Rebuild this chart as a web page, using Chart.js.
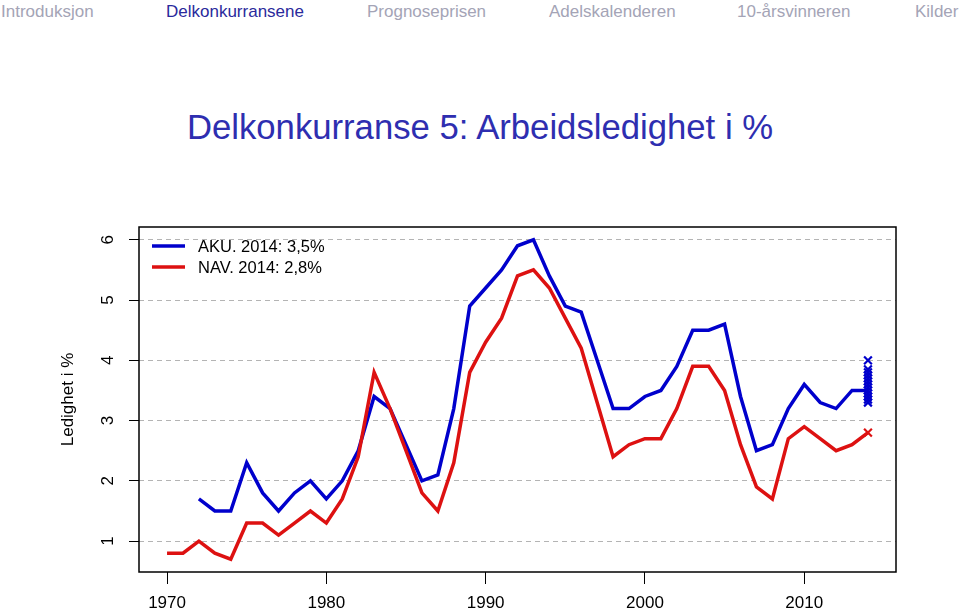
<!DOCTYPE html>
<html>
<head>
<meta charset="utf-8">
<script src="https://cdn.jsdelivr.net/npm/chart.js@4"></script>
<style>
  html, body { margin: 0; padding: 0; background: #fff; }
  #wrap { position: relative; width: 960px; height: 610px; overflow: hidden; }
  #nav div { position: absolute; top: 3px; font: 17px "Liberation Sans", Arial, sans-serif; line-height: 17px; color: #a4a4b6; white-space: nowrap; }
  #nav div.active { color: #2a2a9c; }
  #title { position: absolute; left: 0; width: 960px; top: 110px; text-align: center;
    font: 34.7px "Liberation Sans", Arial, sans-serif; line-height: 34.7px; color: #2e2eb0; }
  canvas { position: absolute; left: 0; top: 0; }
</style>
</head>
<body>
<div id="wrap">
  <div id="nav">
    <div style="left:1px">Introduksjon</div>
    <div class="active" style="left:166px">Delkonkurransene</div>
    <div style="left:367px">Prognoseprisen</div>
    <div style="left:549px">Adelskalenderen</div>
    <div style="left:737px">10-årsvinneren</div>
    <div style="left:915px">Kilder</div>
  </div>
  <div id="title">Delkonkurranse 5: Arbeidsledighet i %</div>
  <canvas id="ledighetChart" width="960" height="610"></canvas>
</div>
<script>
// Arbeidsledighet, AKU og NAV, 1970-2014
const years = [1970, 1971, 1972, 1973, 1974, 1975, 1976, 1977, 1978, 1979,
	1980, 1981, 1982, 1983, 1984, 1985, 1986, 1987, 1988, 1989,
	1990, 1991, 1992, 1993, 1994, 1995, 1996, 1997, 1998, 1999,
	2000, 2001, 2002, 2003, 2004, 2005, 2006, 2007, 2008, 2009,
	2010, 2011, 2012, 2013, 2014];
const aku = [null, null, 1.7, 1.5, 1.5, 2.3, 1.8, 1.5, 1.8, 2.0,
	1.7, 2.0, 2.5, 3.4, 3.2, 2.6, 2.0, 2.1, 3.2, 4.9,
	5.2, 5.5, 5.9, 6.0, 5.4, 4.9, 4.8, 4.0, 3.2, 3.2,
	3.4, 3.5, 3.9, 4.5, 4.5, 4.6, 3.4, 2.5, 2.6, 3.2,
	3.6, 3.3, 3.2, 3.5, 3.5];
const nav = [0.8, 0.8, 1.0, 0.8, 0.7, 1.3, 1.3, 1.1, 1.3, 1.5,
	1.3, 1.7, 2.4, 3.8, 3.2, 2.5, 1.8, 1.5, 2.3, 3.8,
	4.3, 4.7, 5.4, 5.5, 5.2, 4.7, 4.2, 3.3, 2.4, 2.6,
	2.7, 2.7, 3.2, 3.9, 3.9, 3.5, 2.6, 1.9, 1.7, 2.7,
	2.9, 2.7, 2.5, 2.6, 2.8];
// tips for 2014 (crosses)
const tipYear = 2014;
const akuTips = [4.0, 3.85, 3.8, 3.75, 3.7, 3.65, 3.6, 3.55, 3.5, 3.45, 3.4, 3.35, 3.3];
const navTips = [2.8];
const legendLabels = ["AKU. 2014: 3,5%", "NAV. 2014: 2,8%"];
const xTicks = [1970, 1980, 1990, 2000, 2010];
const yTicks = [1, 2, 3, 4, 5, 6];

const BLUE = "#0000cc";
const RED = "#dd1111";
const FONT = '"Liberation Sans", Arial, sans-serif';

// R-style extras: box, rotated y labels, y title, legend
const rStyle = {
	id: "rStyle",
	afterDraw(chart) {
		const ctx = chart.ctx;
		const a = chart.chartArea;
		const y = chart.scales.y;
		ctx.save();
		ctx.strokeStyle = "#000";
		ctx.lineWidth = 1.5;
		ctx.strokeRect(a.left, a.top, a.right - a.left, a.bottom - a.top);

		ctx.fillStyle = "#000";
		ctx.font = "17px " + FONT;
		ctx.textAlign = "center";
		ctx.textBaseline = "middle";
		yTicks.forEach(v => {
			ctx.save();
			ctx.translate(108, y.getPixelForValue(v));
			ctx.rotate(-Math.PI / 2);
			ctx.fillText(String(v), 0, 0);
			ctx.restore();
		});
		ctx.save();
		ctx.translate(68, (a.top + a.bottom) / 2);
		ctx.rotate(-Math.PI / 2);
		ctx.fillText("Ledighet i %", 0, 0);
		ctx.restore();

		// legend
		const colors = [BLUE, RED];
		ctx.font = "16.5px " + FONT;
		ctx.textAlign = "left";
		legendLabels.forEach((lab, i) => {
			const ly = 246 + i * 21;
			ctx.strokeStyle = colors[i];
			ctx.lineWidth = 3.5;
			ctx.beginPath();
			ctx.moveTo(152, ly);
			ctx.lineTo(185, ly);
			ctx.stroke();
			ctx.fillText(lab, 198, ly + 1);
		});
		ctx.restore();
	}
};

const ctx = document.getElementById("ledighetChart").getContext("2d");
new Chart(ctx, {
	type: "scatter",
	data: {
		datasets: [
			{ label: "NAV", data: years.map((yr, i) => ({ x: yr, y: nav[i] })), showLine: true,
				borderColor: RED, borderWidth: 3.5, pointRadius: 0, order: 1 },
			{ label: "AKU", data: years.map((yr, i) => ({ x: yr, y: aku[i] })), showLine: true, spanGaps: false,
				borderColor: BLUE, borderWidth: 3.5, pointRadius: 0, order: 2 },
			{ label: "AKU tips", data: akuTips.map(v => ({ x: tipYear, y: v })), showLine: false,
				pointStyle: "crossRot", pointRadius: 5.5, borderColor: BLUE, borderWidth: 2.2, order: 0 },
			{ label: "NAV tips", data: navTips.map(v => ({ x: tipYear, y: v })), showLine: false,
				pointStyle: "crossRot", pointRadius: 5.5, borderColor: RED, borderWidth: 2.2, order: 0 }
		]
	},
	options: {
		responsive: false,
		animation: false,
		layout: { padding: { top: 227, right: 64, bottom: 0, left: 0 } },
		plugins: {
			legend: { display: false },
			tooltip: { enabled: false }
		},
		scales: {
			x: {
				type: "linear",
				min: 1968.24,
				max: 2015.76,
				afterBuildTicks: s => { s.ticks = xTicks.map(v => ({ value: v })); },
				afterFit: s => { s.height = 38; },
				grid: { drawOnChartArea: false, drawTicks: true, tickLength: 12, tickColor: "#000", tickWidth: 1 },
				border: { display: false },
				ticks: { color: "#000", font: { family: FONT, size: 17 }, padding: 9, maxRotation: 0, callback: v => String(v) }
			},
			y: {
				type: "linear",
				min: 0.488,
				max: 6.212,
				afterBuildTicks: s => { s.ticks = yTicks.map(v => ({ value: v })); },
				afterFit: s => { s.width = 139; },
				grid: { color: "#b4b4b4", lineWidth: 1, drawTicks: true, tickLength: 10, tickColor: "#000", tickWidth: 1, tickBorderDash: [] },
				border: { display: false, dash: [5, 4] },
				ticks: { display: false }
			}
		}
	},
	plugins: [rStyle]
});
</script>
</body>
</html>
